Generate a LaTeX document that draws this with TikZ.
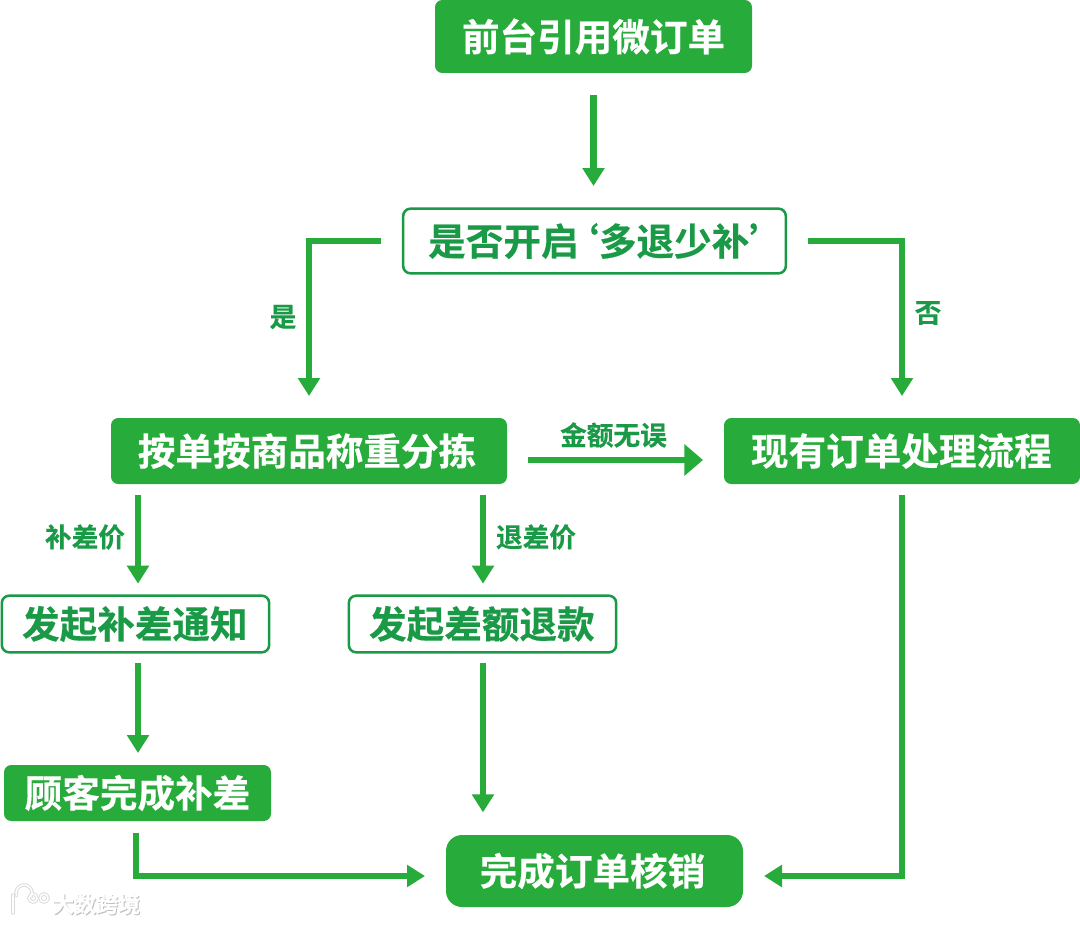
\documentclass[tikz,border=0pt]{standalone}
\usepackage{fontspec}
\usetikzlibrary{arrows.meta,calc}
\setmainfont{Noto Sans CJK SC}[BoldFont={Noto Sans CJK SC Bold},BoldFeatures={FakeBold=0.35}]
\definecolor{gfill}{HTML}{27AB3A}
\definecolor{gtext}{HTML}{1A9A46}
\tikzset{
 x=0.75pt,y=-0.75pt,
 boxbase/.style={rounded corners=5.5pt,outer sep=0pt,inner sep=0pt,font=\bfseries\fontsize{28.2pt}{32pt}\selectfont},
 solidbox/.style={boxbase,fill=gfill,text=white},
 linebox/.style={boxbase,draw=gtext,line width=1.9pt,fill=white,text=gtext},
 flow/.style={draw=gfill,line width=5.2pt,-{Triangle[length=13.5pt,width=16pt]}},
 flowwide/.style={draw=gfill,line width=5.2pt,-{Triangle[length=14pt,width=23pt]}},
 tag/.style={font=\bfseries\fontsize{20pt}{24pt}\selectfont,text=gtext,inner sep=0pt},
 markshade/.style={draw=black!15,line width=2.6pt,line cap=round},
 marklight/.style={draw=white,line width=1.2pt,line cap=round},
 markword/.style={font=\bfseries\fontsize{16.5pt}{20pt}\selectfont,inner sep=0pt},
}
\begin{document}
\begin{tikzpicture}
\useasboundingbox (0,0) rectangle (1080,924);
\node[solidbox,minimum width=237.75pt,minimum height=54.75pt] (a) at (593.5,36.5) {\raisebox{0.6pt}{前台引用微订单}};
\node[linebox,minimum width=287pt,minimum height=48.5pt] (b) at (594.5,241) {是否开启\kern-13pt‘多退少补’\kern-19.5pt};
\node[solidbox,minimum width=297pt,minimum height=49.5pt] (c) at (309,451) {\kern-3pt\raisebox{0.6pt}{按单按商品称重分拣}};
\node[solidbox,minimum width=267pt,minimum height=49.5pt] (d) at (902,451) {\kern-1pt\raisebox{0.6pt}{现有订单处理流程}};
\node[linebox,minimum width=200.5pt,minimum height=42.5pt] (e) at (135.5,624) {\kern-1pt发起补差通知};
\node[linebox,minimum width=200.5pt,minimum height=42.5pt] (f) at (482.5,624) {\kern-1pt发起差额退款};
\node[solidbox,minimum width=200.25pt,minimum height=42pt] (g) at (137.5,793) {顾客完成补差};
\node[solidbox,rounded corners=12pt,minimum width=222.75pt,minimum height=54pt] (h) at (594.5,871) {\kern-3pt完成订单核销};
\coordinate (cdy) at (0,460);
\coordinate (cex) at (138,0);
\coordinate (cfx) at (483,0);
\coordinate (ghx) at (136,0);
\coordinate (hy) at (0,876);
\draw[flow,shorten <=16.5pt,shorten >=17pt] (a.south) -- (a.south |- b.north);
\draw[flow,shorten <=16.5pt,shorten >=16.5pt] (b.west) -| (c.north);
\draw[flow,shorten <=16.5pt,shorten >=16.5pt] (b.east) -| (d.north);
\draw[flowwide,shorten <=15.75pt,shorten >=15.75pt] (c.east |- cdy) -- (d.west |- cdy);
\draw[flow,shorten <=8.25pt,shorten >=9pt] (c.south -| cex) -- (e.north -| cex);
\draw[flow,shorten <=8.25pt,shorten >=9pt] (c.south -| cfx) -- (f.north -| cfx);
\draw[flow,shorten <=8.25pt,shorten >=9pt] (e.south -| cex) -- (g.north -| cex);
\draw[flow,shorten <=8.25pt,shorten >=17pt] (f.south -| cfx) -- (h.north -| cfx);
\draw[flow,shorten <=9pt,shorten >=15.75pt] (g.south -| ghx) |- (h.west |- hy);
\draw[flow,shorten <=8.25pt,shorten >=15.75pt] (d.south) |- (h.east |- hy);
\node[tag] (t1) at (283,317) {是};
\node[tag] (t2) at (928,313) {否};
\node[tag] (t3) at (613.5,435) {金额无误};
\node[tag] (t4) at (85,537) {补差价};
\node[tag] (t5) at (536,537) {退差价};
\node[markword,text=black!25] (ws) at (97,905) {大数跨境};
\node[markword,text=white] (w) at (96,904) {大数跨境};
\foreach \st in {markshade,marklight}{
 \draw[\st] (13,895) -- (13,913);
 \draw[\st] (31,897) arc[start angle=30,end angle=-200,radius=8];
 \draw[\st] (33,898) circle[radius=4];
 \draw[\st] (44,898) circle[radius=4];
}
\end{tikzpicture}
\end{document}
